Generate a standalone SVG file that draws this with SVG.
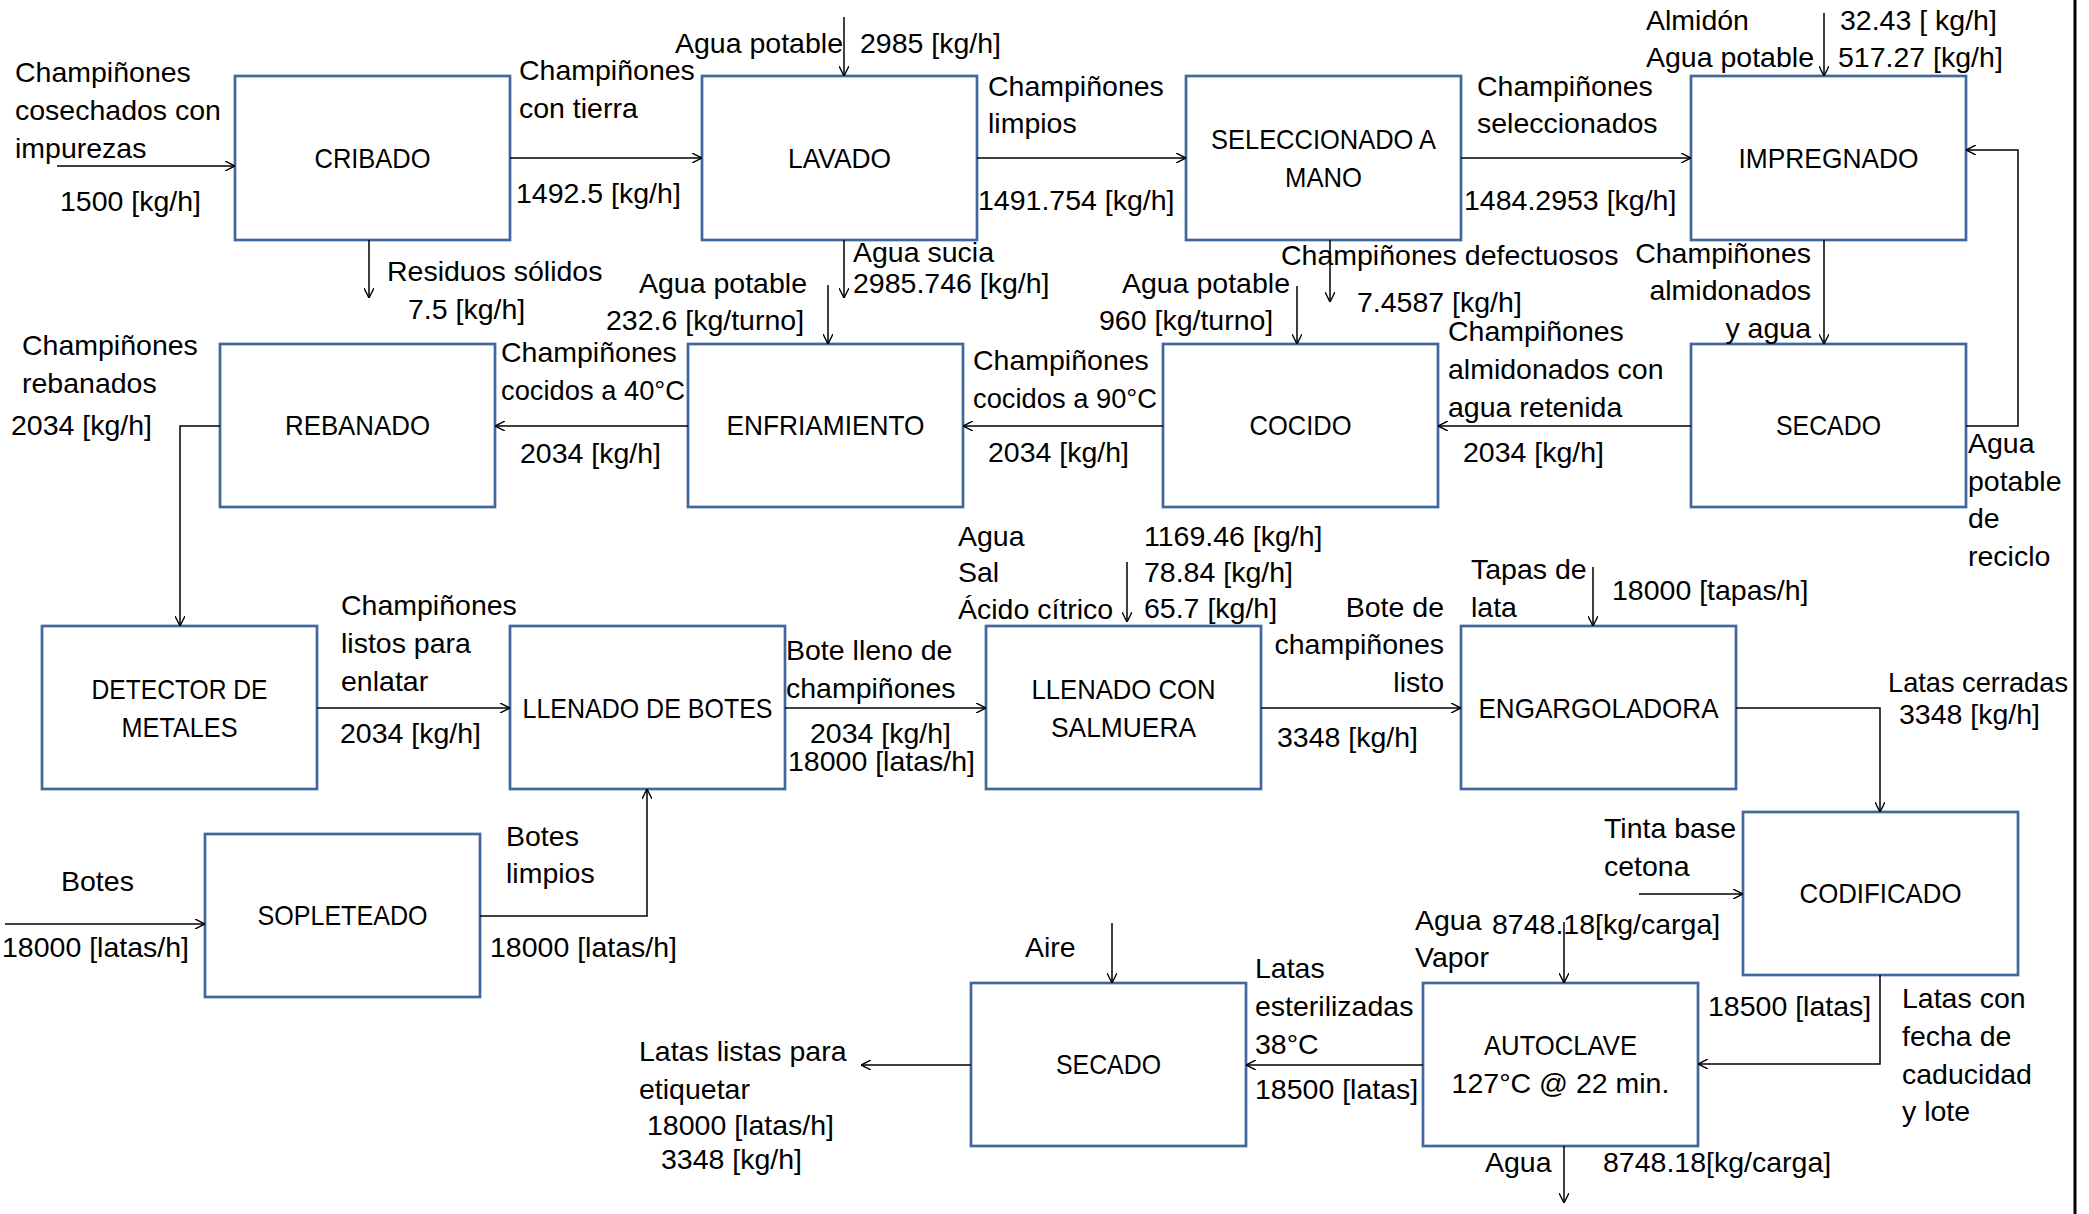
<svg xmlns="http://www.w3.org/2000/svg" width="2089" height="1214" viewBox="0 0 2089 1214">
<defs>
<style>
.box{fill:#fff;stroke:#41689C;stroke-width:2.7}
.lbl{font-family:"Liberation Sans",Arial,sans-serif;font-size:28.5px;fill:#000}
.c{text-anchor:middle}
.e{text-anchor:end}
.con path{fill:none;stroke:#000;stroke-width:1.5}
</style>
<marker id="ah" viewBox="0 0 10 10" refX="10" refY="5" markerWidth="10" markerHeight="10" markerUnits="userSpaceOnUse" orient="auto">
<path d="M0,0 L10,5 L0,10" fill="none" stroke="#000" stroke-width="1.4"/>
</marker>
</defs>
<rect x="0" y="0" width="2089" height="1214" fill="#fff"/>
<line x1="2075" y1="0" x2="2075" y2="1214" stroke="#000" stroke-width="3"/>

<g id="cribado"><rect class="box" x="235" y="76" width="275" height="164"/><text class="lbl c" x="372.5" y="168" textLength="116" lengthAdjust="spacingAndGlyphs">CRIBADO</text></g>
<g id="lavado"><rect class="box" x="702" y="76" width="275" height="164"/><text class="lbl c" x="839.5" y="168" textLength="103" lengthAdjust="spacingAndGlyphs">LAVADO</text></g>
<g id="seleccionado"><rect class="box" x="1186" y="76" width="275" height="164"/><text class="lbl c" x="1323.5" y="149" textLength="225" lengthAdjust="spacingAndGlyphs">SELECCIONADO A</text><text class="lbl c" x="1323.5" y="187" textLength="77" lengthAdjust="spacingAndGlyphs">MANO</text></g>
<g id="impregnado"><rect class="box" x="1691" y="76" width="275" height="164"/><text class="lbl c" x="1828.5" y="168" textLength="180" lengthAdjust="spacingAndGlyphs">IMPREGNADO</text></g>
<g id="rebanado"><rect class="box" x="220" y="344" width="275" height="163"/><text class="lbl c" x="357.5" y="435" textLength="145" lengthAdjust="spacingAndGlyphs">REBANADO</text></g>
<g id="enfriamiento"><rect class="box" x="688" y="344" width="275" height="163"/><text class="lbl c" x="825.5" y="435" textLength="198" lengthAdjust="spacingAndGlyphs">ENFRIAMIENTO</text></g>
<g id="cocido"><rect class="box" x="1163" y="344" width="275" height="163"/><text class="lbl c" x="1300.5" y="435" textLength="102" lengthAdjust="spacingAndGlyphs">COCIDO</text></g>
<g id="secado1"><rect class="box" x="1691" y="344" width="275" height="163"/><text class="lbl c" x="1828.5" y="435" textLength="105" lengthAdjust="spacingAndGlyphs">SECADO</text></g>
<g id="detector"><rect class="box" x="42" y="626" width="275" height="163"/><text class="lbl c" x="179.5" y="699" textLength="176" lengthAdjust="spacingAndGlyphs">DETECTOR DE</text><text class="lbl c" x="179.5" y="737" textLength="116" lengthAdjust="spacingAndGlyphs">METALES</text></g>
<g id="llenado-botes"><rect class="box" x="510" y="626" width="275" height="163"/><text class="lbl c" x="647.5" y="718" textLength="250" lengthAdjust="spacingAndGlyphs">LLENADO DE BOTES</text></g>
<g id="llenado-salmuera"><rect class="box" x="986" y="626" width="275" height="163"/><text class="lbl c" x="1123.5" y="699" textLength="184" lengthAdjust="spacingAndGlyphs">LLENADO CON</text><text class="lbl c" x="1123.5" y="737" textLength="145" lengthAdjust="spacingAndGlyphs">SALMUERA</text></g>
<g id="engargoladora"><rect class="box" x="1461" y="626" width="275" height="163"/><text class="lbl c" x="1598.5" y="718" textLength="240" lengthAdjust="spacingAndGlyphs">ENGARGOLADORA</text></g>
<g id="sopleteado"><rect class="box" x="205" y="834" width="275" height="163"/><text class="lbl c" x="342.5" y="925" textLength="170" lengthAdjust="spacingAndGlyphs">SOPLETEADO</text></g>
<g id="codificado"><rect class="box" x="1743" y="812" width="275" height="163"/><text class="lbl c" x="1880.5" y="903" textLength="162" lengthAdjust="spacingAndGlyphs">CODIFICADO</text></g>
<g id="secado2"><rect class="box" x="971" y="983" width="275" height="163"/><text class="lbl c" x="1108.5" y="1074" textLength="105" lengthAdjust="spacingAndGlyphs">SECADO</text></g>
<g id="autoclave"><rect class="box" x="1423" y="983" width="275" height="163"/><text class="lbl c" x="1560.5" y="1055" textLength="153" lengthAdjust="spacingAndGlyphs">AUTOCLAVE</text><text class="lbl c" x="1560.5" y="1093">127°C @ 22 min.</text></g>

<g id="connectors" class="con">
<path d="M57,166 H235" marker-end="url(#ah)"/>
<path d="M510,158 H702" marker-end="url(#ah)"/>
<path d="M369,240 V298" marker-end="url(#ah)"/>
<path d="M844,17 V76" marker-end="url(#ah)"/>
<path d="M977,158 H1186" marker-end="url(#ah)"/>
<path d="M844,240 V298" marker-end="url(#ah)"/>
<path d="M1330,240 V302" marker-end="url(#ah)"/>
<path d="M1461,158 H1691" marker-end="url(#ah)"/>
<path d="M1824,13 V76" marker-end="url(#ah)"/>
<path d="M1824,240 V344" marker-end="url(#ah)"/>
<path d="M1966,426 H2018 V150 H1966" marker-end="url(#ah)"/>
<path d="M1691,426 H1438" marker-end="url(#ah)"/>
<path d="M1297,286 V344" marker-end="url(#ah)"/>
<path d="M1163,426 H963" marker-end="url(#ah)"/>
<path d="M828,285 V344" marker-end="url(#ah)"/>
<path d="M688,426 H495" marker-end="url(#ah)"/>
<path d="M220,426 H180 V626" marker-end="url(#ah)"/>
<path d="M317,708 H510" marker-end="url(#ah)"/>
<path d="M480,916 H647 V789" marker-end="url(#ah)"/>
<path d="M5,924 H205" marker-end="url(#ah)"/>
<path d="M785,708 H986" marker-end="url(#ah)"/>
<path d="M1127,562 V622" marker-end="url(#ah)"/>
<path d="M1261,708 H1461" marker-end="url(#ah)"/>
<path d="M1593,567 V626" marker-end="url(#ah)"/>
<path d="M1736,708 H1880 V812" marker-end="url(#ah)"/>
<path d="M1639,894 H1743" marker-end="url(#ah)"/>
<path d="M1880,975 V1064 H1698" marker-end="url(#ah)"/>
<path d="M1564,922 V983" marker-end="url(#ah)"/>
<path d="M1423,1065 H1246" marker-end="url(#ah)"/>
<path d="M1112,923 V983" marker-end="url(#ah)"/>
<path d="M971,1065 H861" marker-end="url(#ah)"/>
<path d="M1564,1146 V1203" marker-end="url(#ah)"/>
</g>

<g id="labels" class="lbl">
<text x="15" y="82">Champiñones</text><text x="15" y="120">cosechados con</text><text x="15" y="158">impurezas</text>
<text x="60" y="211">1500 [kg/h]</text>
<text x="519" y="80">Champiñones</text><text x="519" y="118">con tierra</text>
<text x="516" y="203">1492.5 [kg/h]</text>
<text x="387" y="281">Residuos sólidos</text><text x="408" y="319">7.5 [kg/h]</text>
<text x="675" y="53">Agua potable</text><text x="860" y="53">2985 [kg/h]</text>
<text x="988" y="96">Champiñones</text><text x="988" y="133">limpios</text>
<text x="978" y="210">1491.754 [kg/h]</text>
<text x="853" y="262">Agua sucia</text><text x="853" y="293">2985.746 [kg/h]</text>
<text x="1477" y="96">Champiñones</text><text x="1477" y="133">seleccionados</text>
<text x="1464" y="210">1484.2953 [kg/h]</text>
<text x="1646" y="30">Almidón</text><text x="1646" y="67">Agua potable</text>
<text x="1840" y="30">32.43 [ kg/h]</text><text x="1838" y="67">517.27 [kg/h]</text>
<text x="1281" y="265">Champiñones defectuosos</text><text x="1357" y="312">7.4587 [kg/h]</text>
<text class="e" x="1811" y="263">Champiñones</text><text class="e" x="1811" y="300">almidonados</text><text class="e" x="1811" y="338">y agua</text>
<text x="639" y="293">Agua potable</text><text x="606" y="330">232.6 [kg/turno]</text>
<text x="1122" y="293">Agua potable</text><text x="1099" y="330">960 [kg/turno]</text>
<text x="22" y="355">Champiñones</text><text x="22" y="393">rebanados</text><text x="11" y="435">2034 [kg/h]</text>
<text x="501" y="362">Champiñones</text><text x="501" y="400" textLength="184" lengthAdjust="spacingAndGlyphs">cocidos a 40°C</text><text x="520" y="463">2034 [kg/h]</text>
<text x="973" y="370">Champiñones</text><text x="973" y="408" textLength="184" lengthAdjust="spacingAndGlyphs">cocidos a 90°C</text><text x="988" y="462">2034 [kg/h]</text>
<text x="1448" y="341">Champiñones</text><text x="1448" y="379">almidonados con</text><text x="1448" y="417">agua retenida</text><text x="1463" y="462">2034 [kg/h]</text>
<text x="1968" y="453">Agua</text><text x="1968" y="491">potable</text><text x="1968" y="528">de</text><text x="1968" y="566">reciclo</text>
<text x="958" y="546">Agua</text><text x="958" y="582">Sal</text><text x="958" y="619">Ácido cítrico</text>
<text x="1144" y="546">1169.46 [kg/h]</text><text x="1144" y="582">78.84 [kg/h]</text><text x="1144" y="618">65.7 [kg/h]</text>
<text x="1471" y="579">Tapas de</text><text x="1471" y="617">lata</text><text x="1612" y="600">18000 [tapas/h]</text>
<text class="e" x="1444" y="617">Bote de</text><text class="e" x="1444" y="654">champiñones</text><text class="e" x="1444" y="692">listo</text>
<text x="1277" y="747">3348 [kg/h]</text>
<text x="341" y="615">Champiñones</text><text x="341" y="653">listos para</text><text x="341" y="691">enlatar</text><text x="340" y="743">2034 [kg/h]</text>
<text x="786" y="660">Bote lleno de</text><text x="786" y="698">champiñones</text><text x="810" y="743">2034 [kg/h]</text><text x="788" y="771">18000 [latas/h]</text>
<text x="1888" y="692" textLength="180" lengthAdjust="spacingAndGlyphs">Latas cerradas</text><text x="1899" y="724">3348 [kg/h]</text>
<text x="61" y="891">Botes</text><text x="2" y="957">18000 [latas/h]</text>
<text x="506" y="846">Botes</text><text x="506" y="883">limpios</text><text x="490" y="957">18000 [latas/h]</text>
<text x="1604" y="838">Tinta base</text><text x="1604" y="876">cetona</text>
<text x="1415" y="930">Agua</text><text x="1415" y="967">Vapor</text><text x="1492" y="934">8748.18[kg/carga]</text>
<text x="1025" y="957">Aire</text>
<text x="1255" y="978">Latas</text><text x="1255" y="1016">esterilizadas</text><text x="1255" y="1054">38°C</text><text x="1255" y="1099">18500 [latas]</text>
<text x="1708" y="1016">18500 [latas]</text>
<text x="1902" y="1008">Latas con</text><text x="1902" y="1046">fecha de</text><text x="1902" y="1084">caducidad</text><text x="1902" y="1121">y lote</text>
<text x="639" y="1061">Latas listas para</text><text x="639" y="1099">etiquetar</text><text x="647" y="1135">18000 [latas/h]</text><text x="661" y="1169">3348 [kg/h]</text>
<text x="1485" y="1172">Agua</text><text x="1603" y="1172">8748.18[kg/carga]</text>
</g>
</svg>
